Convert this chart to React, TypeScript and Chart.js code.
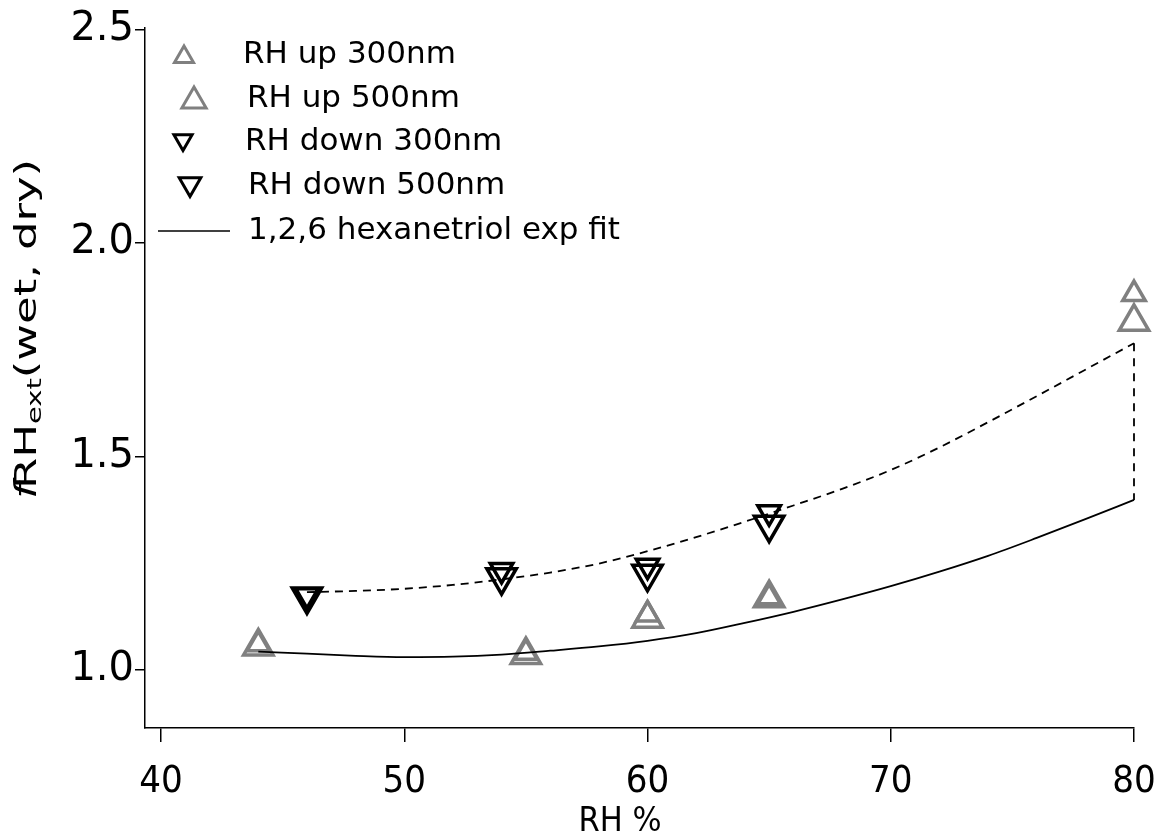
import React, { useEffect, useRef } from 'react';
import { Chart, registerables } from 'chart.js';
import { drawPoint } from 'chart.js/helpers';

Chart.register(...registerables);

// ---- data ----
const upX = [44, 55, 60, 65, 80];
const up300 = [1.06, 1.04, 1.13, 1.17, 1.88];
const up500 = [1.055, 1.035, 1.12, 1.168, 1.815];

const downX = [46, 54, 60, 65];
const down300 = [1.175, 1.234, 1.244, 1.369];
const down500 = [1.172, 1.217, 1.225, 1.34];

const fitX = [44, 46, 48, 50, 52, 54, 56, 58, 60, 62, 64, 66, 68, 70, 72, 74, 76, 78, 80];
const fitY = [1.043, 1.038, 1.033, 1.03, 1.031, 1.036, 1.045, 1.055, 1.068, 1.086, 1.11, 1.136, 1.165, 1.196, 1.23, 1.267, 1.309, 1.353, 1.398];

const shiftX = [46, 48, 50, 52, 54, 56, 58, 60, 62, 64, 66, 68, 70, 72, 74, 76, 78, 80];
const shiftY = [1.182, 1.185, 1.19, 1.199, 1.212, 1.228, 1.249, 1.278, 1.311, 1.347, 1.385, 1.424, 1.468, 1.521, 1.58, 1.641, 1.703, 1.765];

const dropX = [80, 80];
const dropY = [1.765, 1.398];

const xTicks = [40, 50, 60, 70, 80];
const yTicks = [1.0, 1.5, 2.0, 2.5];

const legendLabels = ['RH up 300nm', 'RH up 500nm', 'RH down 300nm', 'RH down 500nm', '1,2,6 hexanetriol exp fit'];
const xTitle = 'RH %';

const GRAY = 'rgb(128,128,128)';
const BLACK = '#000';
const SANS = '"DejaVu Sans", Verdana, sans-serif';
const COND = '"DejaVu Sans Condensed", "Liberation Sans Narrow", "DejaVu Sans", sans-serif';

const pts = (xs: number[], ys: number[]) => xs.map((x, i) => ({ x, y: ys[i] }));

const legendPlugin = {
  id: 'customLegend',
  afterDraw(chart: any) {
    const ctx = chart.ctx;
    ctx.save();
    const rows = [
      { y: 55, mx: 184, tx: 243, rot: 0, r: 11, color: GRAY, line: false },
      { y: 99, mx: 194, tx: 247, rot: 0, r: 14, color: GRAY, line: false },
      { y: 142, mx: 183, tx: 245, rot: 180, r: 10.5, color: BLACK, line: false },
      { y: 186, mx: 190, tx: 248, rot: 180, r: 12.5, color: BLACK, line: false },
      { y: 231, mx: 0, tx: 248, rot: 0, r: 0, color: BLACK, line: true },
    ];
    rows.forEach((row, i) => {
      if (row.line) {
        ctx.strokeStyle = BLACK;
        ctx.lineWidth = 1.5;
        ctx.setLineDash([]);
        ctx.beginPath();
        ctx.moveTo(158, row.y);
        ctx.lineTo(230, row.y);
        ctx.stroke();
      } else {
        ctx.strokeStyle = row.color;
        ctx.fillStyle = 'rgba(0,0,0,0)';
        ctx.lineWidth = 3;
        drawPoint(ctx, { pointStyle: 'triangle', rotation: row.rot, radius: row.r, borderWidth: 3 } as any, row.mx, row.y + (row.rot ? -2 : 2));
      }
      ctx.fillStyle = BLACK;
      ctx.font = `31px ${SANS}`;
      ctx.textBaseline = 'middle';
      ctx.textAlign = 'left';
      ctx.fillText(legendLabels[i], row.tx, row.y);
    });
    ctx.restore();
  },
};

const titlesPlugin = {
  id: 'axisTitles',
  afterDraw(chart: any) {
    const ctx = chart.ctx;
    // y axis title, with italic f and subscript "ext"
    ctx.save();
    ctx.translate(28, 329);
    ctx.rotate(-Math.PI / 2);
    ctx.scale(1.45, 1);
    ctx.fillStyle = BLACK;
    ctx.textBaseline = 'middle';
    ctx.textAlign = 'left';
    const big = `31px ${SANS}`;
    const ital = `italic 31px ${SANS}`;
    const small = `20px ${SANS}`;
    ctx.font = ital;
    const wf = ctx.measureText('f').width - 4;
    ctx.font = big;
    const wRH = ctx.measureText('RH').width;
    const wRest = ctx.measureText('(wet, dry)').width;
    ctx.font = small;
    const wExt = ctx.measureText('ext').width;
    const total = wf + wRH + wExt + wRest;
    let x = -total / 2;
    ctx.font = ital;
    ctx.fillText('f', x, 0);
    x += wf;
    ctx.font = big;
    ctx.fillText('RH', x, 0);
    x += wRH;
    ctx.font = small;
    ctx.fillText('ext', x, 8);
    x += wExt;
    ctx.font = big;
    ctx.fillText('(wet, dry)', x, 0);
    ctx.restore();

    // x axis title
    ctx.save();
    ctx.fillStyle = BLACK;
    ctx.font = `34px ${COND}`;
    ctx.textAlign = 'center';
    ctx.textBaseline = 'middle';
    ctx.fillText(xTitle, 620, 822);
    ctx.restore();
  },
};

export default function App() {
  const ref = useRef<HTMLCanvasElement | null>(null);

  useEffect(() => {
    document.body.style.margin = '0';
    const canvas = ref.current;
    if (!canvas) return;
    const lineCommon = { showLine: true, borderColor: BLACK, borderWidth: 1.8, pointRadius: 0, clip: false };
    const markerCommon = { pointStyle: 'triangle', pointBorderWidth: 3.5, pointBackgroundColor: 'rgba(0,0,0,0)', clip: false };
    const chart = new Chart(canvas, {
      type: 'scatter',
      data: {
        datasets: [
          { label: 'fit', data: pts(fitX, fitY), ...lineCommon, cubicInterpolationMode: 'monotone' },
          { label: 'shifted fit', data: pts(shiftX, shiftY), ...lineCommon, borderDash: [8, 6], cubicInterpolationMode: 'monotone' },
          { label: 'drop', data: pts(dropX, dropY), ...lineCommon, borderDash: [8, 7] },
          { label: legendLabels[0], data: pts(upX, up300), ...markerCommon, pointRadius: 13, pointBorderColor: GRAY },
          { label: legendLabels[1], data: pts(upX, up500), ...markerCommon, pointRadius: 17, pointBorderColor: GRAY },
          { label: legendLabels[2], data: pts(downX, down300), ...markerCommon, pointRotation: 180, pointRadius: 13, pointBorderColor: BLACK },
          { label: legendLabels[3], data: pts(downX, down500), ...markerCommon, pointRotation: 180, pointRadius: 17, pointBorderColor: BLACK },
        ],
      },
      options: {
        responsive: false,
        animation: false,
        devicePixelRatio: 1,
        layout: { padding: { top: 28, right: 24, left: 0, bottom: 0 } },
        plugins: { legend: { display: false }, tooltip: { enabled: false } },
        scales: {
          x: {
            type: 'linear',
            min: 39.342,
            max: 80,
            afterBuildTicks: (s: any) => { s.ticks = xTicks.map((v) => ({ value: v })); },
            afterFit: (s: any) => { s.height = 107; s.paddingLeft = 0; s.paddingRight = 0; },
            grid: { drawOnChartArea: false, drawTicks: true, tickLength: 14, color: BLACK, lineWidth: 1.5 },
            border: { display: true, color: BLACK, width: 1.5 },
            ticks: { color: BLACK, font: { family: COND, size: 38 }, padding: 17, maxRotation: 0, callback: (v: any) => String(v) },
          },
          y: {
            type: 'linear',
            min: 0.864,
            max: 2.503,
            afterBuildTicks: (s: any) => { s.ticks = yTicks.map((v) => ({ value: v })); },
            afterFit: (s: any) => { s.width = 145; s.paddingTop = 0; s.paddingBottom = 0; },
            grid: { drawOnChartArea: false, drawTicks: true, tickLength: 10, color: BLACK, lineWidth: 1.5 },
            border: { display: true, color: BLACK, width: 1.5 },
            ticks: { color: BLACK, font: { family: SANS, size: 40 }, padding: 1, callback: (v: any) => Number(v).toFixed(1) },
          },
        },
      },
      plugins: [legendPlugin, titlesPlugin],
    } as any);
    return () => chart.destroy();
  }, []);

  return (
    <div style={{ width: 1158, height: 835, background: '#fff' }}>
      <canvas ref={ref} width={1158} height={835} style={{ display: 'block' }} />
    </div>
  );
}
